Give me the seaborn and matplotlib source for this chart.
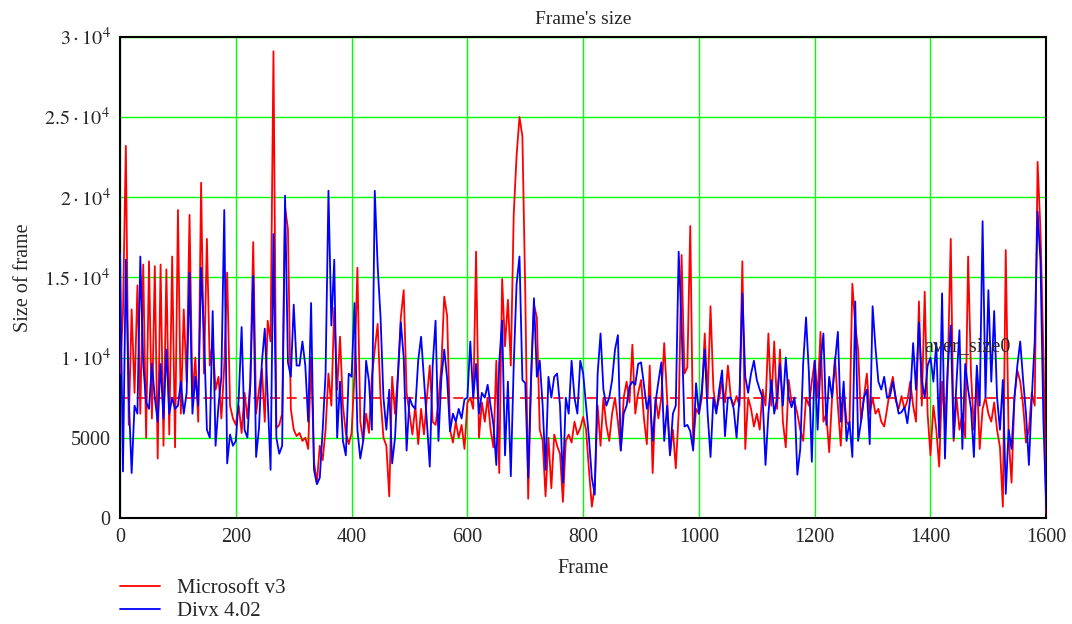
import numpy as np
import pandas as pd
import matplotlib
matplotlib.use("Agg")
import matplotlib.pyplot as plt
import seaborn as sns

# frame index (one reading every 5 frames)
frames = np.arange(0, 1601, 5)

microsoft_v3 = [
    9000, 12800, 23200, 5800, 13000, 7800, 14500, 6500, 15800, 5000, 16000, 6200, 15700, 3700, 15800, 4500, 15500, 5200, 16300, 4400,
    19200, 6500, 13000, 8500, 18900, 7500, 10000, 6000, 20900, 9000, 17400, 9500, 11000, 8000, 8800, 6200, 9500, 15300, 7000, 6200,
    5800, 7000, 5300, 7800, 6200, 8500, 17200, 6500, 8000, 9300, 6000, 12300, 11000, 29100, 5600, 5800, 6500, 19400, 18000, 6800,
    5500, 5100, 5300, 4800, 5000, 4300, 10000, 3500, 2200, 4500, 3600, 5500, 9000, 7000, 13100, 8000, 11300, 7000, 5300, 4600,
    5300, 9000, 15600, 6000, 4800, 6500, 5300, 8800, 10500, 12100, 7500, 5000, 4500, 1350, 8800, 6500, 9000, 12500, 14200, 7800,
    6500, 5200, 7000, 4600, 6800, 5200, 7500, 9500, 6000, 5800, 7200, 9500, 13800, 12600, 5500, 4700, 6000, 5000, 5800, 4300,
    7200, 7500, 6800, 16600, 5000, 7200, 6000, 7500, 5500, 4400, 9800, 2800, 14900, 10700, 13600, 9500, 18900, 22600, 25000, 23800,
    14000, 1200, 8500, 13300, 12500, 5500, 4800, 1350, 5000, 1850, 5200, 4500, 4000, 1000, 4800, 5200, 4700, 6000, 5200, 5600,
    6300, 5500, 3000, 700, 2000, 7000, 4500, 7500, 5800, 4800, 6500, 7500, 6000, 4200, 7500, 8500, 7200, 10800, 6500, 7800,
    8600, 6200, 4600, 9500, 2800, 7500, 6200, 7500, 10900, 7500, 4000, 5500, 3100, 6500, 16400, 9000, 9400, 18200, 4500, 6800,
    6500, 7500, 11500, 7500, 13200, 8000, 6700, 7500, 8500, 7200, 9500, 7500, 7000, 7600, 7000, 16000, 4300, 7500, 6800, 5700,
    6500, 5500, 8000, 7000, 11500, 7000, 11000, 6800, 10500, 6000, 4400, 8600, 7200, 7300, 6500, 5500, 4800, 7500, 7000, 8500,
    9800, 7500, 11600, 6000, 6500, 4100, 7500, 10000, 7000, 4500, 8000, 6000, 5700, 14600, 12000, 10500, 6000, 7500, 9000, 6500,
    7500, 6500, 6800, 6000, 5700, 6800, 8000, 8800, 7300, 6800, 7600, 6800, 7300, 8500, 7000, 6000, 13500, 7000, 14100, 6500,
    3900, 7000, 5500, 3200, 8500, 5800, 9500, 17400, 4800, 7500, 5500, 6500, 5000, 16300, 9000, 5500, 8900, 4300, 6800, 7500,
    6500, 6000, 7200, 5500, 4400, 700, 16700, 5000, 2200, 7500, 9200, 8500, 7000, 4700, 5500, 7800, 7000, 22200, 17900, 10400, 300,
]

divx_402 = [
    16500, 2900, 16100, 7500, 2800, 7000, 6500, 16300, 9600, 7200, 6800, 9600, 7500, 6000, 9600, 6200, 10500, 6500, 7500, 6800,
    7000, 8500, 6500, 7800, 15300, 6500, 8800, 7000, 15600, 11500, 5500, 5000, 12900, 4500, 7000, 8800, 19200, 3400, 5200, 4500,
    4800, 7500, 11900, 5500, 5000, 8300, 15100, 3800, 5600, 9700, 11800, 7500, 3000, 17700, 5000, 4000, 4500, 20100, 9700, 8800,
    13300, 9500, 9500, 11000, 9500, 6000, 13400, 3000, 2100, 2500, 5500, 9000, 20400, 12000, 16100, 5000, 8500, 4800, 3900, 9000,
    8800, 13400, 5500, 3700, 4800, 9800, 8500, 5500, 20400, 15700, 12500, 7500, 5500, 8000, 3400, 5000, 8800, 12200, 10000, 4200,
    7500, 7000, 6800, 9800, 11300, 8700, 6000, 3200, 9500, 12300, 4800, 8700, 10500, 8700, 5400, 6500, 6000, 6800, 6200, 7400,
    7500, 11000, 7500, 9600, 6500, 7800, 7500, 8300, 7000, 5800, 3300, 9700, 12300, 3900, 8500, 2600, 9500, 14600, 16300, 8600,
    8400, 2500, 8800, 13700, 8800, 9800, 7000, 3000, 8800, 7500, 8800, 9000, 7000, 2200, 7500, 6500, 9800, 7500, 6500, 9800,
    9000, 7000, 5000, 2500, 1450, 9000, 11500, 8000, 7000, 7500, 8600, 10500, 11400, 4200, 6500, 7000, 8200, 8500, 8300, 9600,
    9700, 8300, 6800, 7600, 4800, 7200, 8500, 9700, 4800, 7000, 3900, 6500, 7000, 16600, 12000, 5700, 5800, 5400, 4200, 8400,
    6500, 8000, 10500, 6500, 3800, 7500, 6500, 8000, 9200, 5100, 7500, 7500, 6800, 5000, 7500, 14000, 8800, 7800, 9000, 9800,
    8600, 8000, 7500, 3300, 6500, 8600, 6500, 7500, 9600, 7000, 10000, 7500, 6900, 7500, 2700, 4300, 9600, 12500, 9000, 3500,
    9800, 5500, 9600, 11500, 5800, 8800, 7500, 9700, 11600, 6000, 8500, 4800, 6000, 3800, 13500, 4800, 6000, 7500, 8000, 4600,
    13200, 10600, 8500, 8000, 8800, 7500, 7600, 8500, 7500, 6500, 6600, 6900, 5900, 7500, 10900, 8000, 12200, 8600, 7500, 9500,
    10000, 8500, 10900, 5000, 14000, 3700, 9500, 12000, 5000, 8500, 11700, 4300, 9600, 8000, 6800, 3800, 9500, 7000, 18500, 7500,
    14200, 8500, 12900, 7500, 5500, 8600, 1500, 5500, 4300, 7500, 9500, 11000, 8600, 6500, 3300, 7500, 11000, 19100, 16000, 6100, 500,
]

aver_size0 = 7500

y_ticks = [0, 5000, 10000, 15000, 20000, 25000, 30000]
y_labels = ["0", "5000", r"$1\cdot10^{4}$", r"$1.5\cdot10^{4}$", r"$2\cdot10^{4}$",
            r"$2.5\cdot10^{4}$", r"$3\cdot10^{4}$"]
x_ticks = [0, 200, 400, 600, 800, 1000, 1200, 1400, 1600]

df = pd.concat([
    pd.DataFrame({"Frame": frames, "Size": microsoft_v3, "codec": "Microsoft v3"}),
    pd.DataFrame({"Frame": frames, "Size": divx_402, "codec": "Divx 4.02"}),
], ignore_index=True)

sns.set_style("white")
plt.rcParams["font.family"] = ["Liberation Serif", "DejaVu Serif"]
plt.rcParams["mathtext.fontset"] = "stix"

fig = plt.figure(figsize=(10.72, 6.24), dpi=100)
ax = fig.add_axes([0.112, 0.170, 0.864, 0.771])

ax.axhline(aver_size0, color="red", lw=1.2, ls=(0, (6, 4)), zorder=1)
sns.lineplot(data=df, x="Frame", y="Size", hue="codec", estimator=None, sort=False,
             palette={"Microsoft v3": "#ff0000", "Divx 4.02": "#0000ff"},
             lw=1.3, ax=ax, legend=False, zorder=3)

ax.text(1390, 10700, "aver_size0", fontsize=14.5, va="center", ha="left", zorder=4)

ax.set_xlim(0, 1600)
ax.set_ylim(0, 30000)
ax.set_xticks(x_ticks)
ax.set_xticklabels([str(t) for t in x_ticks], fontsize=14.5)
ax.set_yticks(y_ticks)
ax.set_yticklabels(y_labels, fontsize=14.5)
ax.tick_params(length=0, pad=7)
ax.grid(True, color="#00ff00", lw=1.0)
ax.set_axisbelow(True)
for sp in ax.spines.values():
    sp.set_color("black")
    sp.set_linewidth(1.5)

ax.set_title("Frame's size", fontsize=14, pad=9)
ax.set_xlabel("Frame", fontsize=14.5, labelpad=9)
ax.set_ylabel("Size of frame", fontsize=14.5, labelpad=8)

# legend sits under the plot, left aligned
handles = [plt.Line2D([], [], color="#ff0000", lw=1.3),
           plt.Line2D([], [], color="#0000ff", lw=1.3)]
fig.legend(handles, ["Microsoft v3", "Divx 4.02"], loc="lower left",
           bbox_to_anchor=(0.0965, -0.022), frameon=False, fontsize=15,
           handlelength=1.9, handletextpad=0.85, labelspacing=0.15,
           borderpad=0.3)

fig.savefig("out.png", dpi=100)
